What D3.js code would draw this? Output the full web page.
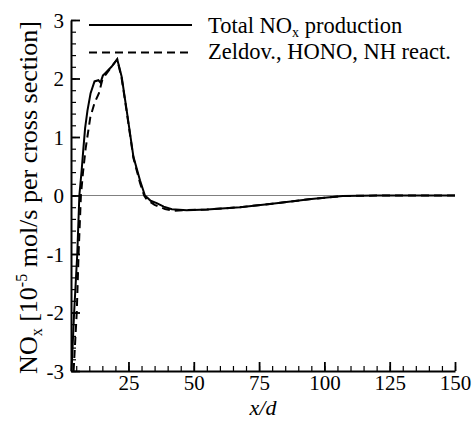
<!DOCTYPE html>
<html><head><meta charset="utf-8">
<script src="https://cdn.jsdelivr.net/npm/d3@7"></script>
<style>
body{margin:0;background:#fff;}
text{font-family:"Liberation Serif","Times New Roman",serif;}
</style></head>
<body><svg id="c" width="473" height="421"></svg>
<script>
const xTicks = [25, 50, 75, 100, 125, 150];
const yTicks = [-3, -2, -1, 0, 1, 2, 3];
const xTotal = [3.2, 4.2, 5.4, 6.2, 7.1, 7.7, 8.4, 9.3, 10.5, 12.0, 13.5, 14.3, 15.2, 16.3, 18.5, 20.7, 22.4, 24.3, 26.9, 29.4, 31.3, 33.5, 35.8, 38.5, 41.6, 47.3, 55, 67.7, 80, 95, 107, 120, 135, 150];
const yTotal = [-3, -2, -1, 0, 0.44, 0.78, 1.15, 1.45, 1.75, 1.95, 1.97, 1.93, 2.05, 2.1, 2.2, 2.33, 2.03, 1.46, 0.66, 0.26, 0.0, -0.09, -0.13, -0.19, -0.235, -0.25, -0.24, -0.2, -0.14, -0.06, -0.01, 0.0, 0.0, 0.0];
const xZeldov = [4.0, 5.2, 5.9, 6.8, 7.6, 8.6, 10.4, 12.0, 13.7, 15.0, 16.5, 18.5, 20.7, 22.4, 24.3, 26.9, 29.4, 31.0, 32.0, 35.0, 39.0, 42.0, 47.3, 55, 67.7, 80, 95, 107, 120, 135, 150];
const yZeldov = [-3, -2, -1, 0, 0.4, 0.8, 1.34, 1.58, 1.75, 1.98, 2.08, 2.2, 2.33, 2.0, 1.44, 0.64, 0.22, 0.0, -0.07, -0.16, -0.23, -0.26, -0.25, -0.24, -0.2, -0.14, -0.06, -0.01, 0.0, 0.0, 0.0];
const legendLabels = ["Total NO", "Zeldov., HONO, NH react."];

const svg = d3.select("#c");
const L = 71, R = 455, T = 20, B = 371;
const x = d3.scaleLinear().domain([3, 150]).range([L, R]);
const y = d3.scaleLinear().domain([-3, 3]).range([B, T]);

// zero line
svg.append("line").attr("x1", x(3)).attr("x2", x(150)).attr("y1", y(0)).attr("y2", y(0))
  .attr("stroke", "#808080").attr("stroke-width", 1.2);

const fs = 21;
// minor ticks
const gxm = svg.append("g").attr("transform", `translate(0,${B})`)
  .call(d3.axisBottom(x).tickValues(d3.range(5, 151, 5)).tickSize(-5).tickFormat(""));
const gym = svg.append("g").attr("transform", `translate(${L},0)`)
  .call(d3.axisLeft(y).tickValues(d3.range(-30, 31, 2).map(v => v / 10)).tickSize(-5).tickFormat(""));
[gxm, gym].forEach(g => { g.select(".domain").remove(); g.selectAll("line").attr("stroke", "#000").attr("stroke-width", 1.2); });

const gx = svg.append("g").attr("transform", `translate(0,${B})`)
  .call(d3.axisBottom(x).tickValues(xTicks).tickSize(-9).tickPadding(4).tickSizeOuter(0));
const gy = svg.append("g").attr("transform", `translate(${L},0)`)
  .call(d3.axisLeft(y).tickValues(yTicks).tickSize(-9).tickPadding(7).tickSizeOuter(0).tickFormat(d => String(d)));
[gx, gy].forEach(g => {
  g.select(".domain").attr("stroke", "#000").attr("stroke-width", 2);
  g.selectAll("line").attr("stroke", "#000").attr("stroke-width", 1.8);
  g.selectAll("text").attr("font-size", fs).attr("fill", "#000").style("font-family", "Liberation Serif");
});
gx.selectAll("text").attr("dy", "0.71em");
gy.selectAll("text").attr("dy", "0.34em");

const line = d3.line().x(d => x(d[0])).y(d => y(d[1]));
const totalData = xTotal.map((v, i) => [v, yTotal[i]]);
const zeldData = xZeldov.map((v, i) => [v, yZeldov[i]]);
svg.append("path").datum(zeldData).attr("d", line).attr("fill", "none")
  .attr("stroke", "#000").attr("stroke-width", 2).attr("stroke-dasharray", "8,5");
svg.append("path").datum(totalData).attr("d", line).attr("fill", "none")
  .attr("stroke", "#000").attr("stroke-width", 2);

// legend
const lfs = 22.5;
const lg = svg.append("g");
lg.append("line").attr("x1", 89).attr("x2", 192).attr("y1", 25).attr("y2", 25).attr("stroke", "#000").attr("stroke-width", 2);
lg.append("line").attr("x1", 89).attr("x2", 192).attr("y1", 52.5).attr("y2", 52.5).attr("stroke", "#000").attr("stroke-width", 2).attr("stroke-dasharray", "8,5");
const t1 = lg.append("text").attr("x", 208).attr("y", 33).attr("font-size", lfs);
t1.append("tspan").text(legendLabels[0]);
t1.append("tspan").attr("font-size", 14).attr("dy", 4).text("x");
t1.append("tspan").attr("dy", -4).text(" production");
lg.append("text").attr("x", 208).attr("y", 59).attr("font-size", lfs).text(legendLabels[1]);

// axis titles
const afs = 26;
svg.append("text").attr("x", (L + R) / 2).attr("y", 415).attr("text-anchor", "middle")
  .attr("font-size", 22).attr("font-style", "italic").text("x/d");
const yl = svg.append("text").attr("transform", `translate(37,${(T + B) / 2 + 2}) rotate(-90)`)
  .attr("text-anchor", "middle").attr("font-size", afs);
yl.append("tspan").text("NO");
yl.append("tspan").attr("font-size", 16).attr("dy", 5).text("x");
yl.append("tspan").attr("dy", -5).text(" [10");
yl.append("tspan").attr("font-size", 16).attr("dy", -10).text("-5");
yl.append("tspan").attr("dy", 10).text(" mol/s per cross section]");
</script></body></html>
